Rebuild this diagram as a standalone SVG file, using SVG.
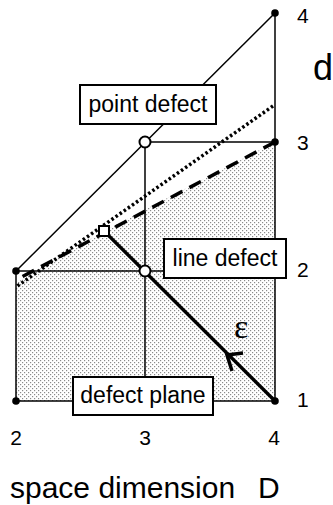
<svg xmlns="http://www.w3.org/2000/svg" width="333" height="505" viewBox="0 0 333 505">
<defs>
<pattern id="stip" width="4" height="4" patternUnits="userSpaceOnUse">
<rect x="0" y="0" width="1.2" height="1.2" fill="#8a8a8a"/>
<rect x="2" y="2" width="1.2" height="1.2" fill="#8a8a8a"/>
</pattern>
</defs>
<style>
.thin{stroke:#000;stroke-width:1.5;fill:none}
.dot{fill:#000}
.open{fill:#fff;stroke:#000;stroke-width:2}
.box{fill:#fff;stroke:#000;stroke-width:2}
.lbl{font-family:"Liberation Sans",Arial,sans-serif;font-size:23px;fill:#000}
.tick{font-family:"Liberation Sans",Arial,sans-serif;font-size:21px;fill:#000}
</style>
<polygon points="16,401 275,401 275,142 104,231 16,283" fill="url(#stip)"/>
<g id="connectors">
<line class="thin" x1="16" y1="271" x2="275" y2="13"/>
<line class="thin" x1="275" y1="13" x2="275" y2="401"/>
<line class="thin" x1="145" y1="142" x2="275" y2="142"/>
<line class="thin" x1="145" y1="142" x2="145" y2="401"/>
<line class="thin" x1="16" y1="271" x2="275" y2="271"/>
<line class="thin" x1="16" y1="271" x2="16" y2="401"/>
<line class="thin" x1="16" y1="401" x2="275" y2="401"/>
<line x1="273" y1="106" x2="16" y2="287" stroke="#000" stroke-width="3.5" stroke-dasharray="2.5 2.5"/>
<line x1="275" y1="142" x2="16" y2="280" stroke="#000" stroke-width="3.5" stroke-dasharray="13 8"/>
<line x1="104" y1="231" x2="275" y2="401" stroke="#000" stroke-width="3.2"/>
<polyline points="232,371 227,355 243,353" fill="none" stroke="#000" stroke-width="3.5" stroke-linejoin="miter"/>
</g>
<g id="n-4-4"><circle class="dot" cx="275" cy="13" r="3.8"/></g>
<g id="n-4-3"><circle class="dot" cx="275" cy="142" r="3.8"/></g>
<g id="n-2-2"><circle class="dot" cx="16" cy="271" r="3.8"/></g>
<g id="n-2-1"><circle class="dot" cx="16" cy="401" r="3.8"/></g>
<g id="n-4-1"><circle class="dot" cx="275" cy="401" r="3.8"/></g>
<g id="n-3-3"><circle class="open" cx="145" cy="142" r="5.5"/></g>
<g id="n-3-2"><circle class="open" cx="145" cy="271" r="5.5"/></g>
<g id="n-square"><rect class="open" x="99" y="226" width="10" height="10"/></g>
<g id="point-defect"><rect class="box" x="80" y="85" width="136" height="39"/><text class="lbl" x="148" y="112" text-anchor="middle">point defect</text></g>
<g id="line-defect"><rect class="box" x="164" y="239" width="122" height="39"/><text class="lbl" x="225" y="266" text-anchor="middle">line defect</text></g>
<g id="defect-plane"><rect class="box" x="73" y="377" width="140" height="38"/><text class="lbl" x="143" y="403" text-anchor="middle">defect plane</text></g>
<g id="labels">
<text class="tick" x="297" y="23">4</text>
<text class="tick" x="297" y="150">3</text>
<text class="tick" x="297" y="277">2</text>
<text class="tick" x="297" y="407">1</text>
<text class="tick" x="16" y="445" text-anchor="middle">2</text>
<text class="tick" x="145" y="445" text-anchor="middle">3</text>
<text class="tick" x="274" y="445" text-anchor="middle">4</text>
<text x="313" y="80" font-family="'Liberation Sans',Arial,sans-serif" font-size="36">d</text>
<text x="234" y="338" font-family="'Liberation Serif','Times New Roman',serif" font-size="34">ε</text>
<text font-family="'Liberation Sans',Arial,sans-serif" font-size="30" y="498"><tspan x="10">space dimension</tspan><tspan x="258">D</tspan></text>
</g>
</svg>
